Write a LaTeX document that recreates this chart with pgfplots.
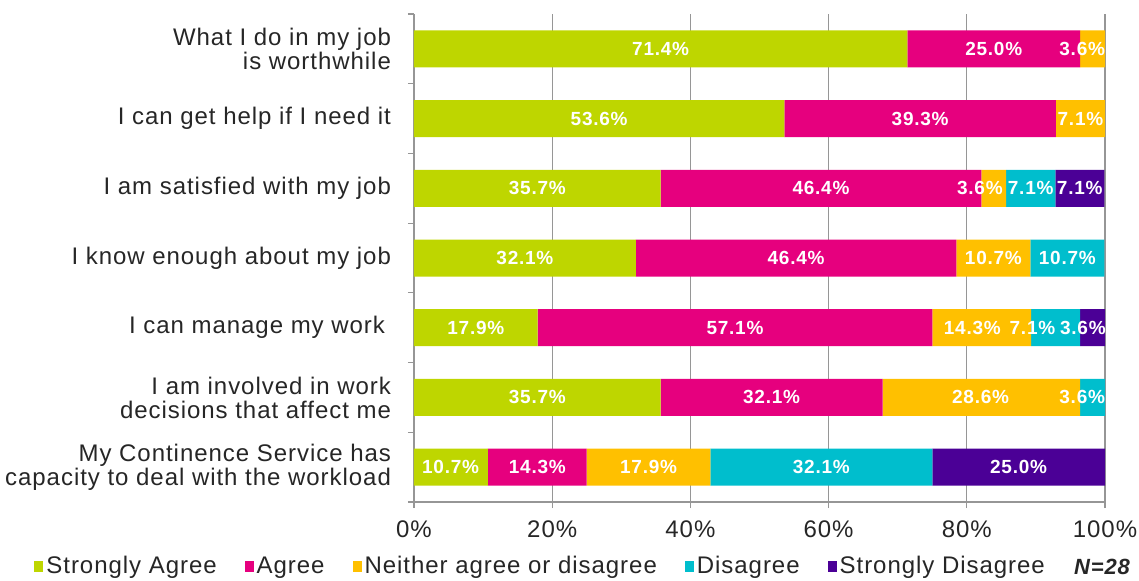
\documentclass[border=0pt]{standalone}
\usepackage{fontspec}
\setmainfont[LetterSpace=4]{Liberation Sans}
\usepackage{pgfplots}
\pgfplotsset{compat=1.18}
\usepackage{pgfplotstable}
\definecolor{cgreen}{RGB}{190,214,0}
\definecolor{cmag}{RGB}{230,0,126}
\definecolor{cyel}{RGB}{255,192,0}
\definecolor{ccyan}{RGB}{0,190,205}
\definecolor{cpurp}{RGB}{75,0,150}
\definecolor{gridgray}{RGB}{150,150,150}
\pgfplotstableread{
y sa a n d sd
6 71.4 25.0 3.6 0 0
5 53.6 39.3 7.1 0 0
4 35.7 46.4 3.6 7.1 7.1
3 32.1 46.4 10.7 10.7 0
2 17.9 57.1 14.3 7.1 3.6
1 35.7 32.1 28.6 3.6 0
0 10.7 14.3 17.9 32.1 25.0
}\datatable
% label positions (as placed in the chart) and values
\pgfplotstableread{
x y v
35.7 6 71.4
83.9 6 25.0
96.7 6 3.6
26.8 5 53.6
73.25 5 39.3
96.45 5 7.1
17.85 4 35.7
58.9 4 46.4
81.9 4 3.6
89.25 4 7.1
96.35 4 7.1
16.05 3 32.1
55.3 3 46.4
83.85 3 10.7
94.55 3 10.7
8.95 2 17.9
46.45 2 57.1
80.8 2 14.3
89.5 2 7.1
96.8 2 3.6
17.85 1 35.7
51.75 1 32.1
82.0 1 28.6
96.7 1 3.6
5.3 0 10.7
17.85 0 14.3
33.95 0 17.9
58.95 0 32.1
87.5 0 25.0
}\labtable
\begin{document}
\begin{tikzpicture}
\useasboundingbox (-207pt,-39pt) rectangle (362.5pt,251pt);
\begin{axis}[
  at={(0,0)}, anchor=south west,
  scale only axis, width=345.5pt, height=244pt,
  xbar stacked, bar width=18.5pt,
  xmin=0, xmax=100, ymin=-0.5, ymax=6.5,
  axis lines=left, axis line style={-, draw=gridgray, line width=0.6pt},
  xtick={0,20,...,100}, xticklabels={0\%,20\%,40\%,60\%,80\%,100\%},
  xmajorgrids, grid style={gridgray, line width=0.6pt},
  ytick={-0.5,0.5,...,6.5},
  yticklabels={{My Continence Service has\hspace{16pt}\\capacity to deal with the workload},
    {I am involved in work\\decisions that affect me},
    {I can manage my work\hspace{3pt}},
    {I know enough about my job},
    {I am satisfied with my job},
    {I can get help if I need it},
    {What I do in my job\\is worthwhile\hspace{16pt}},{}},
  yticklabel style={align=right, yshift=17.43pt, xshift=-5pt},
  xticklabel style={yshift=-3pt},
  tick align=outside, major tick length=3pt,
  tick style={gridgray, line width=0.6pt},
  tick label style={font=\fontsize{12}{12}\selectfont, text=black!85},
  legend columns=5,
  legend style={at={(0.184,-0.137)}, anchor=center, draw=none,
    font=\fontsize{12}{12}\selectfont, text=black!85,
    /tikz/every even column/.append style={column sep=12.5pt},
    nodes={inner sep=1.5pt, text height=0.72em, text depth=0.22em}},
  legend image code/.code={\fill[#1] (0pt,-1.7pt) rectangle (4.5pt,3.7pt);},
]
\addplot[fill=cgreen, draw=none] table[x=sa,y=y] {\datatable};
\addplot[fill=cmag, draw=none] table[x=a,y=y] {\datatable};
\addplot[fill=cyel, draw=none] table[x=n,y=y] {\datatable};
\addplot[fill=ccyan, draw=none] table[x=d,y=y] {\datatable};
\addplot[fill=cpurp, draw=none] table[x=sd,y=y] {\datatable};
\legend{Strongly Agree, Agree, Neither agree or disagree, Disagree, Strongly Disagree}
\end{axis}
\begin{axis}[
  at={(0,0)}, anchor=south west,
  scale only axis, width=345.5pt, height=244pt,
  xmin=0, xmax=100, ymin=-0.5, ymax=6.5,
  hide axis, clip=false,
  point meta=explicit,
  nodes near coords={\pgfmathprintnumber[fixed,fixed zerofill,precision=1,assume math mode=true]{\pgfplotspointmeta}\%},
  nodes near coords align=center,
  every node near coord/.append style={anchor=center, text=white, inner sep=0pt,
    font=\bfseries\fontsize{9.5}{10}\selectfont},
]
\addplot[only marks, mark=none] table[x=x,y=y,meta=v] {\labtable};
\end{axis}
\node[font=\bfseries\itshape\fontsize{11}{12}\selectfont, text=black!85] at (344pt,-32.5pt) {N=28};
\end{tikzpicture}
\end{document}
